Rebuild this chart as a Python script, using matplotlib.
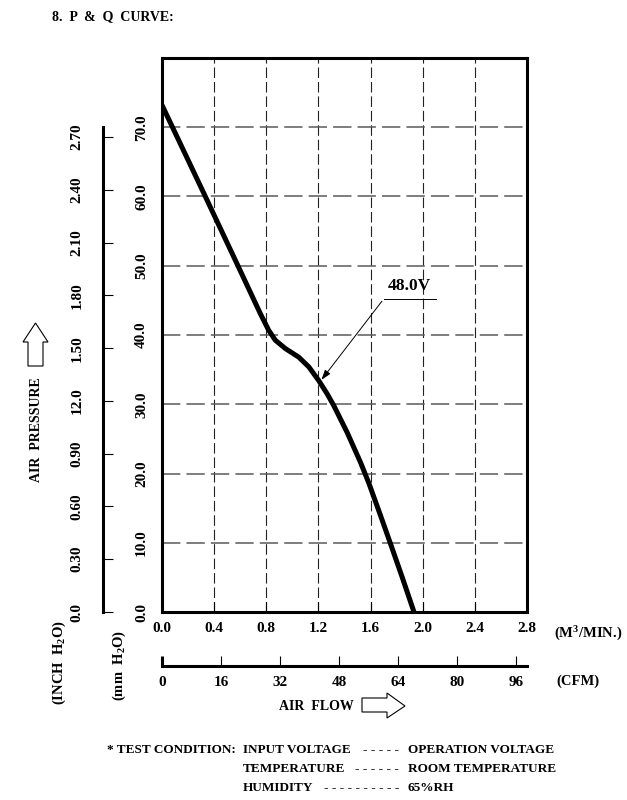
import numpy as np
import matplotlib
matplotlib.use("Agg")
import matplotlib.pyplot as plt
from matplotlib.patches import Polygon

plt.rcParams['font.family'] = ['Liberation Serif', 'DejaVu Serif']
plt.rcParams['font.weight'] = 'bold'
plt.rcParams['mathtext.fontset'] = 'custom'
plt.rcParams['mathtext.rm'] = 'Liberation Serif:bold'
plt.rcParams['mathtext.it'] = 'Liberation Serif:bold'
plt.rcParams['mathtext.default'] = 'rm'

# ---- data ----
flow_m3min = [0.0, 0.33, 0.40, 0.58, 0.754, 0.818, 0.869, 0.946, 1.049, 1.126, 1.203,
              1.267, 1.318, 1.421, 1.523, 1.587, 1.677, 1.754, 1.843, 1.933]
pressure_mm = [73.2, 60.1, 57.3, 50.1, 43.1, 40.7, 39.25, 38.05, 36.8, 35.4, 33.4,
               31.5, 29.8, 25.9, 21.6, 18.6, 13.9, 9.8, 5.0, 0.0]

x_ticks = [0.0, 0.4, 0.8, 1.2, 1.6, 2.0, 2.4, 2.8]
x_labels = ['0.0', '0.4', '0.8', '1.2', '1.6', '2.0', '2.4', '2.8']
mm_ticks = [0, 10, 20, 30, 40, 50, 60, 70]
mm_labels = ['0.0', '10.0', '20.0', '30.0', '40.0', '50.0', '60.0', '70.0']
inch_ticks = [0.0, 0.3, 0.6, 0.9, 1.2, 1.5, 1.8, 2.1, 2.4, 2.7]
inch_labels = ['0.0', '0.30', '0.60', '0.90', '12.0', '1.50', '1.80', '2.10', '2.40', '2.70']
cfm_ticks = [0, 16, 32, 48, 64, 80, 96]
cfm_labels = ['0', '16', '32', '48', '64', '80', '96']
curve_label = '48.0V'

W, H = 627, 800
def fx(x): return x / W
def fy(y): return 1 - y / H

TICK_FS = 11
TXT_FS = 10

fig = plt.figure(figsize=(6.27, 8.0), dpi=100)
fig.patch.set_facecolor('white')

L, R, T, B = 162, 527, 58, 612
ax = fig.add_axes([fx(L), fy(B), (R - L) / W, (B - T) / H])
ax.set_xlim(0, 2.8)
ax.set_ylim(0, 80)
for s in ax.spines.values():
    s.set_linewidth(2.2)
for gx in x_ticks[1:-1]:
    ax.axvline(gx, color='#222222', lw=0.8, dashes=(9.5, 3.5), zorder=1)
for gy in mm_ticks[1:]:
    ax.axhline(gy, color='#5a5a5a', lw=1.1, dashes=(12, 4), zorder=1)
ax.plot(flow_m3min, pressure_mm, color='black', lw=3.6, solid_capstyle='butt',
        solid_joinstyle='round', zorder=3)
ax.set_xticks(x_ticks)
ax.set_xticklabels(x_labels, fontsize=TICK_FS)
ax.set_yticks(mm_ticks)
ax.set_yticklabels(mm_labels, fontsize=TICK_FS, rotation=90, va='center')
ax.tick_params(axis='x', direction='in', length=7, width=0.8, pad=7)
ax.tick_params(axis='y', direction='in', length=0, width=0.8, pad=10)

# annotation
ax.annotate('', xy=(1.21, 33.2), xytext=(1.70, 45.2),
            arrowprops=dict(arrowstyle='-|>,head_length=0.6,head_width=0.2', color='black', lw=0.7),
            zorder=4)
ax.plot([1.70, 2.10], [45.2, 45.2], color='black', lw=0.7, zorder=4)
ax.text(1.90, 45.9, curve_label, fontsize=12.5, ha='center', va='bottom')

# inch axis
ax_in = fig.add_axes([fx(103), fy(B), 0.05, (B - T) / H])
ax_in.set_ylim(0, 80 / 25.4)
ax_in.patch.set_visible(False)
for k in ['top', 'right', 'bottom']:
    ax_in.spines[k].set_visible(False)
ax_in.spines['left'].set_linewidth(2.2)
ax_in.spines['left'].set_bounds(0, 70 / 25.4)
ax_in.set_xticks([])
ax_in.set_yticks(inch_ticks)
ax_in.set_yticklabels(inch_labels, fontsize=TICK_FS, rotation=90, va='center')
ax_in.tick_params(axis='y', direction='in', length=7, width=0.8, pad=14)

# CFM axis
ax_c = fig.add_axes([fx(L), fy(666), (R - L) / W, 0.02])
ax_c.set_xlim(0, 2.8 * 35.3147)
ax_c.set_ylim(0, 1)
ax_c.patch.set_visible(False)
for k in ['top', 'right', 'left']:
    ax_c.spines[k].set_visible(False)
ax_c.spines['bottom'].set_linewidth(2.2)
ax_c.set_yticks([])
ax_c.set_xticks(cfm_ticks)
ax_c.set_xticklabels(cfm_labels, fontsize=TICK_FS)
ax_c.tick_params(axis='x', direction='in', length=7, width=0.8, pad=7)
ax_c.get_xticklines()[0].set_markeredgewidth(2.2)

# texts
fig.text(fx(52), fy(17), '8.  P  &  Q  CURVE:', fontsize=TXT_FS, ha='left', va='center')
fig.text(fx(588), fy(634), r'(M$^{3}$/MIN.)', fontsize=TXT_FS + 0.5, ha='center', va='center')
fig.text(fx(578), fy(681), '(CFM)', fontsize=TXT_FS + 0.5, ha='center', va='center')
fig.text(fx(316), fy(707), 'AIR  FLOW', fontsize=TXT_FS, ha='center', va='center')
fig.text(fx(37), fy(430), 'AIR  PRESSURE', fontsize=TXT_FS, ha='center', va='center', rotation=90)
fig.text(fx(59), fy(663), r'(INCH  H$_{2}$O)', fontsize=TXT_FS + 0.5, ha='center', va='center', rotation=90)
fig.text(fx(119), fy(665), r'(mm  H$_{2}$O)', fontsize=TXT_FS + 0.5, ha='center', va='center', rotation=90)

# arrows (outline)
def add_poly(pts):
    poly = Polygon([(fx(x), fy(y)) for x, y in pts], closed=True, facecolor='white',
                   edgecolor='black', lw=0.8, transform=fig.transFigure)
    fig.patches.append(poly)

add_poly([(28, 366), (43, 366), (43, 342), (48, 342), (35.5, 323), (23, 342), (28, 342)])
add_poly([(362, 698), (387, 698), (387, 693), (405, 706), (387, 718), (387, 712), (362, 712)])

# test condition
rows = [
    (750, '* TEST CONDITION:', 'INPUT VOLTAGE', 5, 'OPERATION VOLTAGE'),
    (769, None, 'TEMPERATURE', 6, 'ROOM TEMPERATURE'),
    (788, None, 'HUMIDITY', 10, '65%RH'),
]
for y, lead, name, ndash, val in rows:
    if lead:
        fig.text(fx(107), fy(y), lead, fontsize=9.5, ha='left', va='center')
    fig.text(fx(243), fy(y), name, fontsize=9.5, ha='left', va='center')
    fig.text(fx(399), fy(y), ' '.join(['-'] * ndash), fontsize=9.5, ha='right', va='center')
    fig.text(fx(408), fy(y), val, fontsize=9.5, ha='left', va='center')

fig.savefig('out.png', dpi=100, facecolor='white')
